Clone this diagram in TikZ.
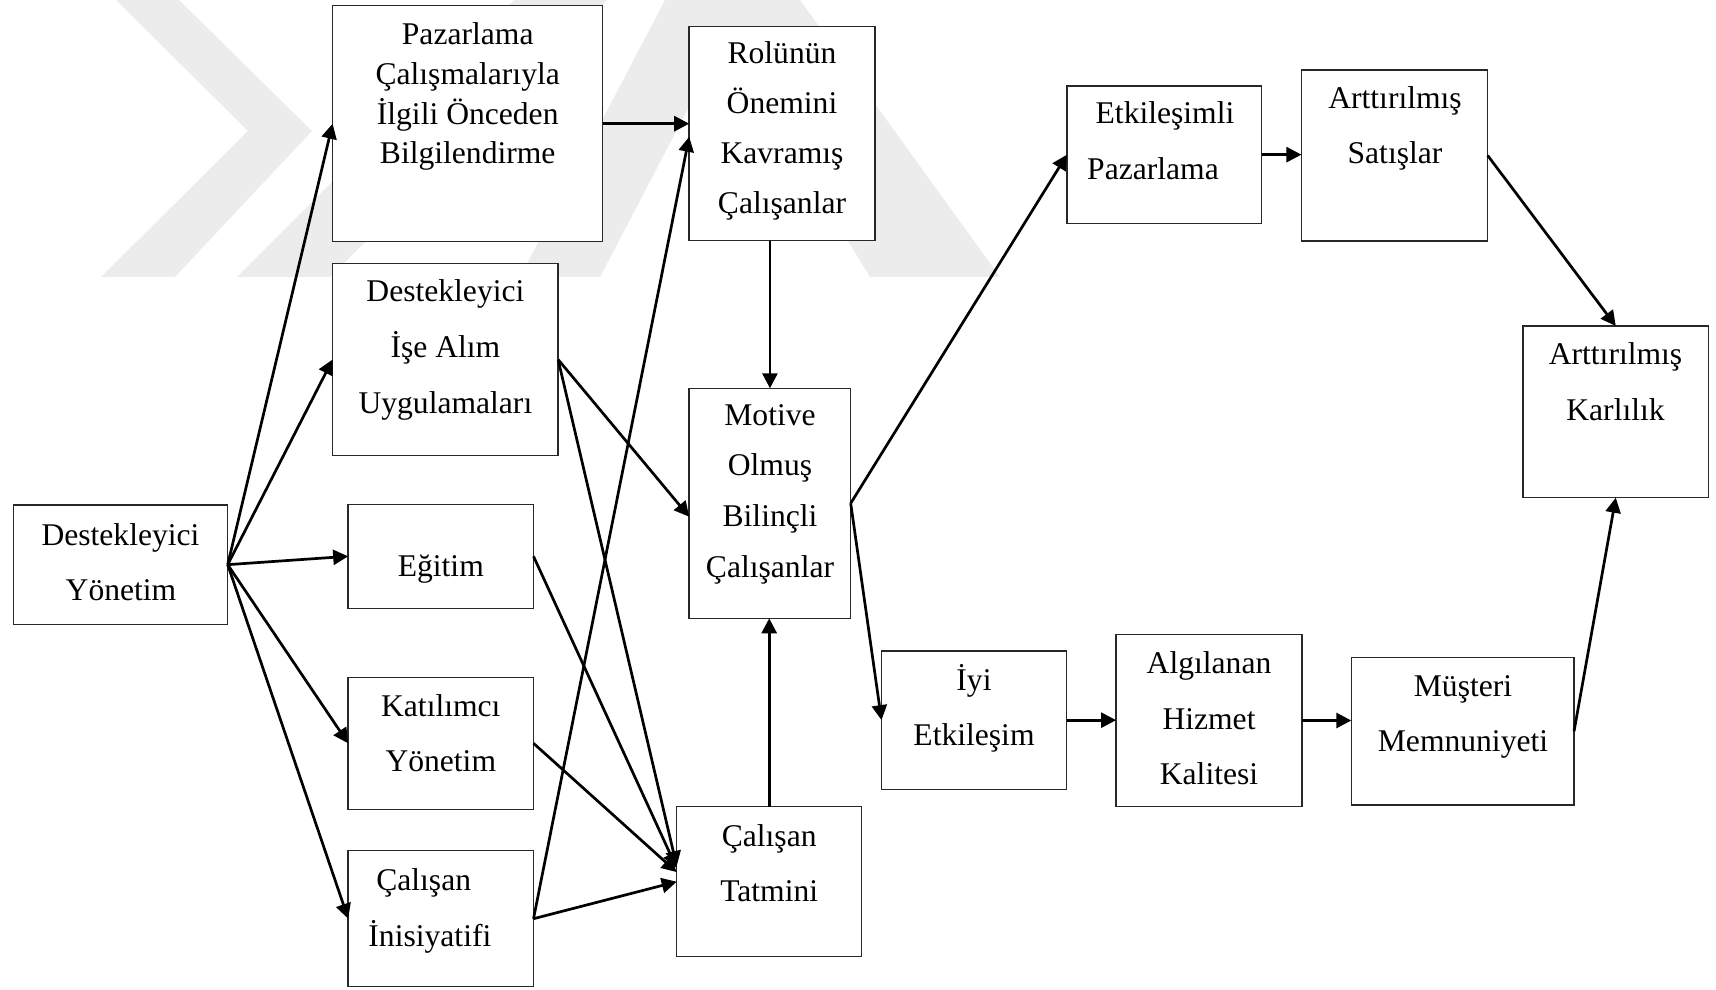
\documentclass[tikz,border=0pt]{standalone}
\usepackage{fontspec}
\setmainfont{Liberation Serif}
\usetikzlibrary{arrows.meta,fit}
\definecolor{wmgray}{RGB}{236,236,236}
\definecolor{boxline}{RGB}{40,40,40}
\newcommand\mkbox[5]{\node[boxst, fit={(#2,#3) (#4,#5)}] (#1) {};}
\begin{document}
\begin{tikzpicture}[x=0.5pt,y=-0.5pt,
  boxst/.style={draw=boxline, line width=0.75pt, fill=white, inner sep=0pt, outer sep=0pt},
  lbl/.style={anchor=base, inner sep=0pt, font=\fontsize{15.8}{19}\selectfont},
  arr/.style={line width=1.35pt, -{Triangle[length=7.5pt,width=7.5pt]}},
  wm/.style={fill=wmgray, draw=none}]
\useasboundingbox (0,0) rectangle (1716,989);

% faint background logo
\fill[wm] (116,0) -- (179,0) -- (312,131) -- (175,277) -- (101,277) -- (248,131) -- cycle;
\fill[wm] (237,277) -- (330,277) -- (607,0) -- (514,0) -- cycle;
\fill[wm] (520,277) -- (600,277) -- (745,0) -- (665,0) -- cycle;
\fill[wm] (700,0) -- (800,0) -- (1000,277) -- (870,277) -- cycle;

% boxes
\mkbox{dy}{13.4}{505}{227.7}{624.3}
\mkbox{pc}{332.6}{5.7}{602.7}{241.7}
\mkbox{di}{332.6}{263.7}{558.1}{455.3}
\mkbox{eg}{348.2}{504.3}{533.5}{608.3}
\mkbox{ky}{348.2}{677.3}{533.5}{809.3}
\mkbox{ci}{348.2}{850.7}{533.5}{986.7}
\mkbox{ro}{689.2}{26.7}{874.8}{240.7}
\mkbox{mo}{689.2}{388.3}{850.7}{618.3}
\mkbox{ct}{676.7}{806.7}{861.7}{956.7}
\mkbox{ep}{1067}{86}{1261.6}{223.3}
\mkbox{as}{1301.4}{70}{1487.7}{241}
\mkbox{ak}{1522.8}{326}{1708.7}{497.7}
\mkbox{ie}{881.5}{651}{1066.6}{789.3}
\mkbox{ah}{1116.1}{634.3}{1301.8}{806.7}
\mkbox{mm}{1351.3}{657.7}{1574}{805}

% texts
\node[lbl] (dy-a) at (120.5,545) {Destekleyici};
\node[lbl] (dy-b) at (121,600.7) {Yönetim};
\node[lbl] (pc-a) at (467.7,45) {Pazarlama};
\node[lbl] (pc-b) at (467.7,84.5) {Çalışmalarıyla};
\node[lbl] (pc-c) at (467.7,124.5) {İlgili Önceden};
\node[lbl] (pc-d) at (467.7,164) {Bilgilendirme};
\node[lbl] (di-a) at (445.4,301.7) {Destekleyici};
\node[lbl] (di-b) at (445.4,357.5) {İşe Alım};
\node[lbl] (di-c) at (445.4,413.3) {Uygulamaları};
\node[lbl] (eg-a) at (440.8,576.7) {Eğitim};
\node[lbl] (ky-a) at (440.8,716.7) {Katılımcı};
\node[lbl] (ky-b) at (440.8,771.7) {Yönetim};
\node[lbl] (ci-a) at (423.7,890.7) {Çalışan};
\node[lbl] (ci-b) at (429.9,946) {İnisiyatifi};
\node[lbl] (ro-a) at (782,63.3) {Rolünün};
\node[lbl] (ro-b) at (782,113.3) {Önemini};
\node[lbl] (ro-c) at (782,163.3) {Kavramış};
\node[lbl] (ro-d) at (782,213.3) {Çalışanlar};
\node[lbl] (mo-a) at (770,425) {Motive};
\node[lbl] (mo-b) at (770,475.7) {Olmuş};
\node[lbl] (mo-c) at (770,526.4) {Bilinçli};
\node[lbl] (mo-d) at (770,577) {Çalışanlar};
\node[lbl] (ct-a) at (769.2,846.7) {Çalışan};
\node[lbl] (ct-b) at (769.2,901.7) {Tatmini};
\node[lbl] (ep-a) at (1165,124) {Etkileşimli};
\node[lbl] (ep-b) at (1153,180) {Pazarlama};
\node[lbl] (as-a) at (1395,108.3) {Arttırılmış};
\node[lbl] (as-b) at (1395,164) {Satışlar};
\node[lbl] (ak-a) at (1615.5,364.3) {Arttırılmış};
\node[lbl] (ak-b) at (1615.5,420.7) {Karlılık};
\node[lbl] (ie-a) at (974,690) {İyi};
\node[lbl] (ie-b) at (974,745) {Etkileşim};
\node[lbl] (ah-a) at (1209,673.3) {Algılanan};
\node[lbl] (ah-b) at (1209,729.3) {Hizmet};
\node[lbl] (ah-c) at (1209,784.3) {Kalitesi};
\node[lbl] (mm-a) at (1463,696.7) {Müşteri};
\node[lbl] (mm-b) at (1463,751.7) {Memnuniyeti};

% connectors
\draw[arr] (dy.east) -- (pc.west);
\draw[arr] (dy.east) -- (di.west);
\draw[arr] (dy.east) -- (eg.west);
\draw[arr] (dy.east) -- (ky.west);
\draw[arr] (dy.east) -- (ci.west);
\draw[arr] (pc.east) -- (pc.east -| ro.west);
\draw[arr] (ci.east) -- ([yshift=-1.5pt]ro.west);
\draw[arr] (di.east) -- ([yshift=-6.7pt]mo.west);
\draw[arr] (di.east) -- ([yshift=7.8pt]ct.west);
\draw[arr] (eg.east) -- ([yshift=6.8pt]ct.west);
\draw[arr] (ky.east) -- ([yshift=4.8pt]ct.west);
\draw[arr] (ci.east) -- (ct.west);
\draw[arr] (ro.south -| mo.north) -- (mo.north);
\draw[arr] (ct.north) -- (ct.north |- mo.south);
\draw[arr] (mo.east) -- (ep.west);
\draw[arr] (mo.east) -- (ie.west);
\draw[arr] (ep.east) -- (ep.east -| as.west);
\draw[arr] (as.east) -- (ak.north);
\draw[arr] (ie.east) -- (ie.east -| ah.west);
\draw[arr] (ah.east) -- (ah.east -| mm.west);
\draw[arr] (mm.east) -- (ak.south);
\end{tikzpicture}
\end{document}
